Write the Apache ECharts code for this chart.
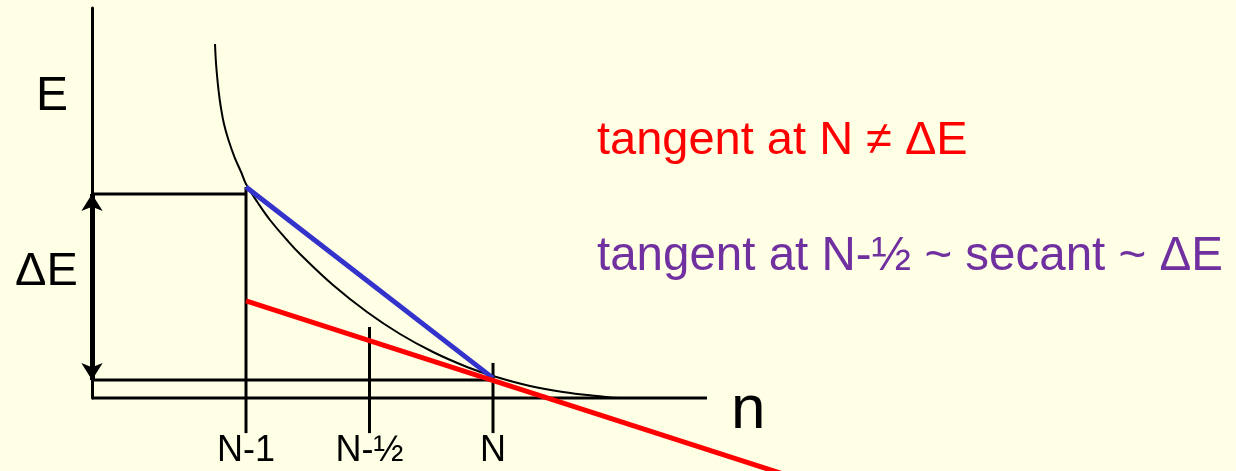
<!DOCTYPE html>
<html>
<head>
<meta charset="utf-8">
<script src="https://cdn.jsdelivr.net/npm/echarts@6/dist/echarts.min.js"></script>
<style>
  html, body { margin: 0; padding: 0; background: #FFFFE6; }
  #main { width: 1236px; height: 471px; }
</style>
</head>
<body>
<div id="main"></div>
<script type="text/javascript">
// axis ranges (n in units of N, E arbitrary)
var nMin = 0.3765, nMax = 3.2429, nAxisEnd = 2.8664;
var eMin = 0, eMax = 10;

// tick positions and labels on the n axis
var tickN = [1, 1.5, 2];
var tickLabels = ['N-1', 'N-\u00BD', 'N'];
var tickTopE = [5.41, 1.82, 0.9];
var tickBottomE = -0.9;

// E(n) curve
var curveN = [0.8745, 0.8777, 0.8818, 0.8887, 0.8980, 0.9109, 0.9291, 0.9534, 0.9818, 1.0, 1.0486, 1.0972, 1.1660, 1.2186, 1.3522, 1.4899, 1.6235, 1.7571, 1.8947, 2.0, 2.1498, 2.2834, 2.4211, 2.5142, 2.5951];
var curveE = [9.077, 8.667, 8.333, 7.897, 7.462, 7.026, 6.615, 6.179, 5.769, 5.487, 5.0, 4.564, 4.051, 3.692, 2.897, 2.205, 1.641, 1.179, 0.795, 0.564, 0.308, 0.154, 0.051, 0.0, 0.0];

// levels E(N-1) and E(N)
var eUpper = 5.23, eLower = 0.46;

// secant from N-1 to N (blue), tangent at N (red)
var secantN = [1, 2], secantE = [5.41, 0.51];
var tangentN = [1, 3.2], tangentE = [2.49, -2.0];

function pairs(xs, ys) {
	return xs.map(function (x, i) { return [x, ys[i]]; });
}

var myChart = echarts.init(document.getElementById('main'));

var thin = { color: '#000', width: 3 };
var segs = [];
// n 轴
segs.push([[nMin, 0], [nAxisEnd, 0]]);
// 参考线
segs.push([[nMin, eUpper], [1, eUpper]]);
segs.push([[nMin, eLower], [2, eLower]]);
tickN.forEach(function (n, i) {
	segs.push([[n, tickTopE[i]], [n, tickBottomE]]);
});

var series = segs.map(function (d) {
	return {
		type: 'line', data: d, symbol: 'none', clip: false,
		lineStyle: thin, silent: true, z: 2
	};
});

series.push({
	type: 'line', data: pairs(curveN, curveE), smooth: 0.4, symbol: 'none',
	lineStyle: { color: '#000', width: 2 }, z: 3
});
series.push({
	type: 'line', data: pairs(secantN, secantE), symbol: 'none',
	lineStyle: { color: '#3333CC', width: 5 }, z: 4
});
series.push({
	type: 'line', data: pairs(tangentN, tangentE), symbol: 'none', clip: false,
	lineStyle: { color: '#FF0000', width: 5 }, z: 4
});
// ΔE 双箭头
series.push({
	type: 'line', data: [], symbol: 'none',
	markLine: {
		silent: true, symbol: ['arrow', 'arrow'], symbolSize: [16, 17],
		label: { show: false },
		lineStyle: { color: '#000', width: 5, type: 'solid' },
		data: [[{ coord: [nMin, eUpper] }, { coord: [nMin, eLower] }]]
	},
	z: 5
});

var option = {
	backgroundColor: '#FFFFE6',
	animation: false,
	grid: { left: 92, right: 436, top: 8, bottom: 73 },
	xAxis: {
		type: 'value', min: nMin, max: nMax,
		axisLine: { show: false },
		axisTick: { show: false },
		splitLine: { show: false },
		axisLabel: {
			customValues: tickN, margin: 35,
			fontFamily: 'Liberation Sans', fontSize: 36, color: '#000',
			formatter: function (v) {
				var i = tickN.indexOf(v);
				return i >= 0 ? tickLabels[i] : '';
			}
		}
	},
	yAxis: {
		type: 'value', min: eMin, max: eMax,
		axisLine: { show: true, onZero: false, lineStyle: { color: '#000', width: 3 } },
		axisTick: { show: false },
		axisLabel: { show: false },
		splitLine: { show: false }
	},
	graphic: [
		{ type: 'text', left: 36, top: 73, style: { text: 'E', fontFamily: 'Liberation Sans', fontSize: 48, fill: '#000' } },
		{ type: 'text', left: 15, top: 249, style: { text: '\u0394E', fontFamily: 'Liberation Sans', fontSize: 47, fill: '#000' } },
		{ type: 'text', left: 731, top: 380, style: { text: 'n', fontFamily: 'Liberation Sans', fontSize: 62, fill: '#000' } },
		{ type: 'text', left: 597, top: 118, style: { text: 'tangent at N \u2260 \u0394E', fontFamily: 'Liberation Sans', fontSize: 47, fill: '#FF0000' } },
		{ type: 'text', left: 597, top: 233, style: { text: 'tangent at N-\u00BD ~ secant ~ \u0394E', fontFamily: 'Liberation Sans', fontSize: 47.5, fill: '#7030A0' } }
	],
	series: series
};

myChart.setOption(option);
</script>
</body>
</html>
